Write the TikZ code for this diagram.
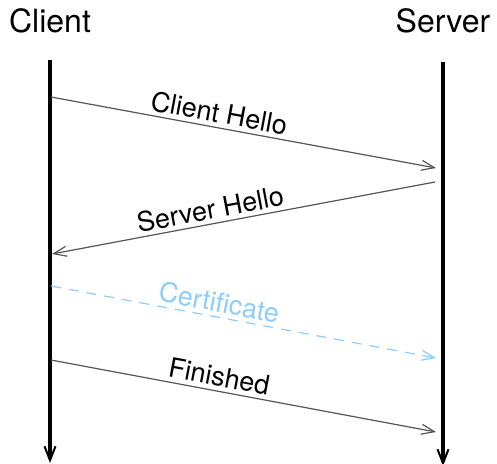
\documentclass[tikz,border=0pt]{standalone}
\usepackage{fontspec}
\setmainfont{TeX Gyre Heros}
\usetikzlibrary{arrows.meta}
\definecolor{msggray}{RGB}{85,85,85}
\definecolor{certblue}{RGB}{140,205,255}
\begin{document}
\begin{tikzpicture}[x=1pt,y=-1pt,
  actor/.style={font=\fontsize{32}{36}\selectfont, inner sep=0pt},
  lifeline/.style={line width=4pt, -{Straight Barb[length=14pt,width=11pt,line width=2pt]}},
  msg/.style={line width=1.2pt, draw=msggray, -{Straight Barb[length=13pt,width=10pt,line width=1.2pt]}},
  msglabel/.style={font=\fontsize{27}{30}\selectfont, sloped, above, inner sep=4pt},
  dashmsg/.style={msg, draw=certblue, dash pattern=on 10pt off 8pt}
]
\useasboundingbox (0,0) rectangle (497,463);

% participants
\node[actor] (client) at (50,21) {Client};
\node[actor] (server) at (443,21) {Server};

% lifelines
\coordinate (ctop) at (50,60);
\coordinate (cbot) at (50,463);
\coordinate (stop) at (443,62);
\coordinate (sbot) at (443,466);
\draw[lifeline] (ctop) -- (cbot);
\draw[lifeline] (stop) -- (sbot);

% message end points
\coordinate (c1) at (51,97);   \coordinate (s1) at (436,168);
\coordinate (s2) at (435,182); \coordinate (c2) at (52,254);
\coordinate (c3) at (51,286);  \coordinate (s3) at (436,358);
\coordinate (c4) at (51,360);  \coordinate (s4) at (436,432);

% messages
\draw[msg] (c1) -- node[msglabel, pos=0.43] (m1) {Client Hello} (s1);
\draw[msg] (s2) -- node[msglabel, pos=0.58] (m2) {Server Hello} (c2);
\draw[dashmsg] (c3) -- node[msglabel, pos=0.43, text=certblue] (m3) {Certificate} (s3);
\draw[msg] (c4) -- node[msglabel, pos=0.43] (m4) {Finished} (s4);
\end{tikzpicture}
\end{document}
